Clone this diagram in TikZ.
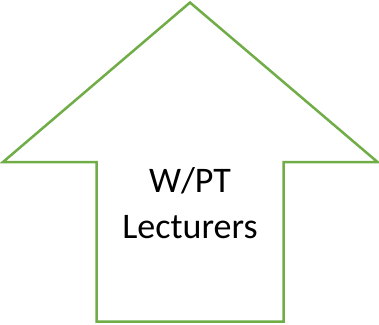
\documentclass[tikz,border=0pt]{standalone}
\usepackage{fontspec}
\setmainfont{Carlito}
\usepackage{tikz}
\usetikzlibrary{calc,positioning}
\definecolor{arrowgreen}{RGB}{112,173,71}

\begin{document}
\begin{tikzpicture}[
    x=1pt, y=-1pt,
    outline/.style={draw=arrowgreen, line width=2.5pt, line join=miter, fill=white},
    label/.style={align=center, font=\fontsize{36}{46}\selectfont, text=black, inner sep=0pt}
]

% ================= FRAME =================
\useasboundingbox (0,0) rectangle (379,324);

% ================= COORDINATES & NODES =================
\coordinate (Tip) at (190, 2.5);
\coordinate (HeadL) at (3, 162);
\coordinate (HeadR) at (377.5, 162);
\coordinate (ShaftL) at (96.5, 162);
\coordinate (ShaftR) at (283.5, 162);
\coordinate (BaseL) at (96.5, 321.5);
\coordinate (BaseR) at (283.5, 321.5);

% ================= DRAWING ARROW =================
\draw[outline] (Tip) -- (HeadR) -- (ShaftR) -- (BaseR) -- (BaseL) -- (ShaftL) -- (HeadL) -- cycle;

\node[label, anchor=base] (Text) at (190, 238) {W/PT\\Lecturers};

\end{tikzpicture}
\end{document}
